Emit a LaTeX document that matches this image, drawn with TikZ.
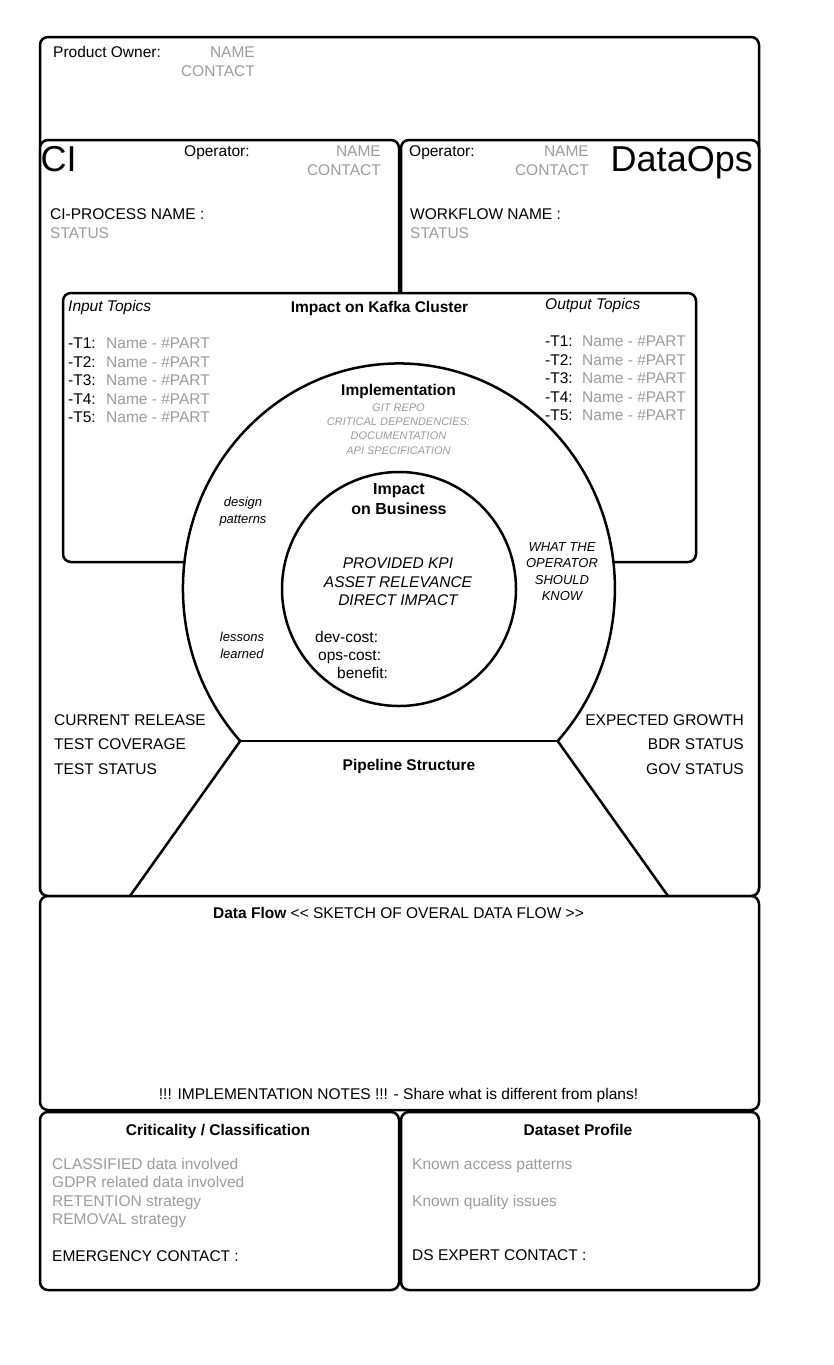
\documentclass[tikz,border=0pt]{standalone}
\usepackage{fontspec}
\setmainfont{Liberation Sans}
\definecolor{gtxt}{HTML}{9C9C9C}
\begin{document}
\begin{tikzpicture}[x=1pt,y=-1pt,
  frame/.style={line width=2.5pt,rounded corners=8pt,fill=white},
  shapeline/.style={line width=2.5pt,line join=miter},
  t/.style={inner sep=0pt,font=\fontsize{15.5}{18}\selectfont},
  tb/.style={t,font=\fontsize{15.5}{18}\selectfont\bfseries},
  ti/.style={t,font=\fontsize{15.5}{18}\selectfont\itshape},
  tm/.style={inner sep=0pt,font=\fontsize{13}{15}\selectfont\itshape},
  ts/.style={inner sep=0pt,font=\fontsize{11}{13}\selectfont\itshape,text=gtxt},
  big/.style={inner sep=0pt,font=\fontsize{36}{40}\selectfont},
  g/.style={text=gtxt}]
\useasboundingbox (0,0) rectangle (833,1365);

% frames
\draw[frame] (40,37) rectangle (759,896);
\draw[frame] (40,140) rectangle (399,896);
\draw[frame] (401,140) rectangle (759,896);
\draw[frame] (63,293) rectangle (696,562);

% implementation ellipse + pipeline trapezoid
\fill[white] (130,896) -- (240.2,741) arc[start angle=137.3,end angle=402.7,x radius=216,y radius=225] -- (668,896) -- cycle;
\draw[shapeline] (130,896) -- (240.2,741) arc[start angle=137.3,end angle=402.7,x radius=216,y radius=225] -- (668,896);
\draw[shapeline] (240.2,741) -- (557.8,741);

% business circle
\draw[line width=2.5pt,fill=white] (399,589) circle[radius=117];

% lower frames
\draw[frame] (40,896) rectangle (759,1110);
\draw[frame] (40,1112) rectangle (399,1290);
\draw[frame] (401,1112) rectangle (759,1290);

% product owner
\node[t,anchor=base west] (po) at (53,57.5) {Product Owner:};
\node[t,g,anchor=base east] (poname) at (255,57.5) {NAME};
\node[t,g,anchor=base east] (pocontact) at (255,76.5) {CONTACT};

% CI
\node[big,anchor=base west] (ci) at (40.5,171) {CI};
\node[t,anchor=base west] (ciop) at (184,156.5) {Operator:};
\node[t,g,anchor=base east] (ciname) at (381,156.5) {NAME};
\node[t,g,anchor=base east] (cicontact) at (381,175.5) {CONTACT};
\node[t,anchor=base west] (ciproc) at (50,219.5) {CI-PROCESS NAME :};
\node[t,g,anchor=base west] (cistatus) at (50,238.5) {STATUS};

% DataOps
\node[big,anchor=base east] (dataops) at (753,171) {DataOps};
\node[t,anchor=base west] (doop) at (409,156.5) {Operator:};
\node[t,g,anchor=base east] (doname) at (589,156.5) {NAME};
\node[t,g,anchor=base east] (docontact) at (589,175.5) {CONTACT};
\node[t,anchor=base west] (dowf) at (410,219.5) {WORKFLOW NAME :};
\node[t,g,anchor=base west] (dostatus) at (410,238.5) {STATUS};

% Kafka
\node[ti,anchor=base west] (intop) at (68,311.5) {Input Topics};
\node[tb,anchor=base] (kafka) at (379.5,312.5) {Impact on Kafka Cluster};
\node[ti,anchor=base west] (outtop) at (545,309.5) {Output Topics};
\foreach \i/\y in {1/348.5,2/367,3/385.5,4/404,5/422.5}{
  \node[t,anchor=base west] (inT\i) at (68,\y) {-T\i:};
  \node[t,g,anchor=base west] (inN\i) at (106,\y) {Name - \#PART};
}
\foreach \i/\y in {1/346.5,2/365,3/383.5,4/402,5/420.5}{
  \node[t,anchor=base west] (outT\i) at (545,\y) {-T\i:};
  \node[t,g,anchor=base west] (outN\i) at (582,\y) {Name - \#PART};
}

% Implementation
\node[tb,anchor=base] (impl) at (398.5,395.5) {Implementation};
\node[ts,anchor=base] (git) at (398.5,411) {GIT REPO};
\node[ts,anchor=base] (crit) at (398.5,425) {CRITICAL DEPENDENCIES:};
\node[ts,anchor=base] (docu) at (398.5,439.5) {DOCUMENTATION};
\node[ts,anchor=base] (api) at (398.5,454) {API SPECIFICATION};
\node[tm,anchor=base] (design) at (243,506.5) {design};
\node[tm,anchor=base] (patterns) at (243,523) {patterns};
\node[tm,anchor=base] (lessons) at (242,641.5) {lessons};
\node[tm,anchor=base] (learned) at (242,658) {learned};
\node[tm,anchor=base] (what) at (562,551) {WHAT THE};
\node[tm,anchor=base] (operator) at (562,567.5) {OPERATOR};
\node[tm,anchor=base] (should) at (562,584) {SHOULD};
\node[tm,anchor=base] (know) at (562,600.5) {KNOW};

% Business
\node[tb,anchor=base,font=\fontsize{16}{18}\selectfont\bfseries] (impact) at (399,494) {Impact};
\node[tb,anchor=base,font=\fontsize{16}{18}\selectfont\bfseries] (onbus) at (399,514) {on Business};
\node[ti,anchor=base] (kpi) at (398,568) {PROVIDED KPI};
\node[ti,anchor=base] (asset) at (398,587) {ASSET RELEVANCE};
\node[ti,anchor=base] (direct) at (398,605) {DIRECT IMPACT};
\node[t,anchor=base west] (dev) at (315,642) {dev-cost:};
\node[t,anchor=base west] (ops) at (318,660) {ops-cost:};
\node[t,anchor=base west] (benefit) at (337,678) {benefit:};

% Pipeline
\node[t,anchor=base west] (cur) at (54,725) {CURRENT RELEASE};
\node[t,anchor=base west] (cov) at (54,749) {TEST COVERAGE};
\node[t,anchor=base west] (tst) at (54,774) {TEST STATUS};
\node[t,anchor=base east] (growth) at (744,725) {EXPECTED GROWTH};
\node[t,anchor=base east] (bdr) at (744,749) {BDR STATUS};
\node[t,anchor=base east] (gov) at (744,774) {GOV STATUS};
\node[tb,anchor=base] (pipe) at (409,770) {Pipeline Structure};

% Data Flow
\node[t,anchor=base] (flow) at (398.5,918) {\textbf{Data Flow} {<}{<} SKETCH OF OVERAL DATA FLOW {>}{>}};
\node[t,anchor=base] (notes) at (398.5,1099) {!!! IMPLEMENTATION NOTES !!! - Share what is different from plans!};

% Criticality
\node[tb,anchor=base] (crithead) at (218,1135) {Criticality / Classification};
\node[t,g,anchor=base west] (cls) at (52,1169) {CLASSIFIED data involved};
\node[t,g,anchor=base west] (gdpr) at (52,1187.5) {GDPR related data involved};
\node[t,g,anchor=base west] (ret) at (52,1206) {RETENTION strategy};
\node[t,g,anchor=base west] (rem) at (52,1224.5) {REMOVAL strategy};
\node[t,anchor=base west] (emer) at (52,1261) {EMERGENCY CONTACT :};

% Dataset
\node[tb,anchor=base] (dshead) at (578,1135) {Dataset Profile};
\node[t,g,anchor=base west] (access) at (412,1169) {Known access patterns};
\node[t,g,anchor=base west] (quality) at (412,1206) {Known quality issues};
\node[t,anchor=base west] (dsexp) at (412,1260) {DS EXPERT CONTACT :};
\end{tikzpicture}
\end{document}
